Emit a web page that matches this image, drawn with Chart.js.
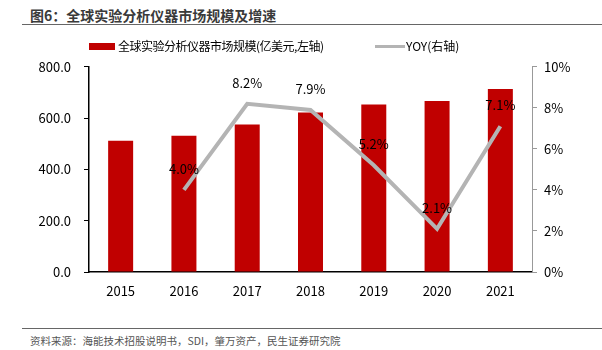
<!DOCTYPE html>
<html>
<head>
<meta charset="utf-8">
<script src="https://cdn.jsdelivr.net/npm/chart.js@4"></script>
<style>
  body { margin: 0; background: #fff; font-family: "Noto Sans CJK SC", sans-serif; }
  #wrap { position: relative; width: 602px; height: 350px; overflow: hidden; }
  #title { position: absolute; left: 30px; top: 5px; font-size: 14px; font-weight: bold; color: #3a3a3a; }
  #topLine { position: absolute; left: 22px; right: 0; top: 24px; border-top: 1px solid #666; }
  #legend { position: absolute; top: 37px; left: 0; width: 602px; height: 18px; font-size: 12px; color: #000; }
  .item { position: absolute; top: 0; line-height: 18px; white-space: nowrap; }
  .swatch { position: absolute; top: 6px; }
  #botLine { position: absolute; left: 22px; right: 0; top: 328px; border-top: 1px solid #666; }
  #source { position: absolute; left: 30px; top: 333px; font-size: 10.5px; color: #555; }
  #chartBox { position: absolute; left: 0; top: 46px; width: 602px; height: 256px; }
</style>
</head>
<body>
<div id="wrap">
  <div id="title">图6：全球实验分析仪器市场规模及增速</div>
  <div id="topLine"></div>
  <div id="chartBox"><canvas id="grafico"></canvas></div>
  <div id="legend">
    <div class="swatch" style="left:89px;width:26px;height:7px;background:#C00000"></div>
    <div class="item" style="left:118px;letter-spacing:-0.5px">全球实验分析仪器市场规模(亿美元,左轴)</div>
    <div class="swatch" style="left:375px;top:8px;width:30px;height:3px;background:#b4b4b4"></div>
    <div class="item" style="left:406px">YOY(右轴)</div>
  </div>
  <div id="botLine"></div>
  <div id="source">资料来源：海能技术招股说明书，SDI，肇万资产，民生证券研究院</div>
</div>
<script>
const years = ['2015', '2016', '2017', '2018', '2019', '2020', '2021'];
const marketSize = [512, 531, 575, 622, 653, 667, 713];
const yoy = [null, 4.0, 8.2, 7.9, 5.2, 2.1, 7.1];

const tickFont = { family: '"Noto Sans CJK SC", sans-serif', size: 13 };

// labels above the YOY points
const yoyLabels = {
  id: 'yoyLabels',
  afterDatasetsDraw(chart) {
    const ctx = chart.ctx;
    const meta = chart.getDatasetMeta(1);
    ctx.save();
    ctx.font = '13px "Noto Sans CJK SC", sans-serif';
    ctx.fillStyle = '#000';
    ctx.textAlign = 'center';
    ctx.textBaseline = 'middle';
    meta.data.forEach((pt, i) => {
      if (yoy[i] === null) return;
      ctx.fillText(yoy[i].toFixed(1) + '%', pt.x, pt.y - 21);
    });
    ctx.restore();
  }
};

const el = document.getElementById('grafico');
const graph = new Chart(el, {
  data: {
    labels: years,
    datasets: [{
      type: 'bar',
      label: '全球实验分析仪器市场规模(亿美元,左轴)',
      data: marketSize,
      backgroundColor: '#C00000',
      categoryPercentage: 1,
      barPercentage: 0.395,
      yAxisID: 'y',
      order: 2
    }, {
      type: 'line',
      label: 'YOY(右轴)',
      data: yoy,
      borderColor: '#b4b4b4',
      borderWidth: 4,
      pointRadius: 0,
      tension: 0,
      yAxisID: 'y1',
      order: 1
    }]
  },
  options: {
    responsive: true,
    maintainAspectRatio: false,
    animation: false,
    layout: { padding: { top: 13, left: 0, right: 0, bottom: 0 } },
    plugins: {
      legend: { display: false },
      tooltip: { enabled: false }
    },
    scales: {
      x: {
        grid: { display: false, drawTicks: false },
        border: { color: '#000', width: 1.5 },
        ticks: { color: '#000', font: tickFont, padding: 11 },
        afterFit(scale) { scale.height = 30; }
      },
      y: {
        position: 'left',
        min: 0,
        max: 800,
        grid: { drawOnChartArea: false, tickLength: 5, color: '#000' },
        border: { color: '#000', width: 1.5 },
        ticks: {
          stepSize: 200,
          color: '#000',
          font: tickFont,
          padding: 13,
          callback: (v) => v.toFixed(1)
        },
        afterFit(scale) { scale.width = 89; }
      },
      y1: {
        position: 'right',
        min: 0,
        max: 10,
        grid: { drawOnChartArea: false, tickLength: 5, color: '#999' },
        border: { color: '#999', width: 1 },
        ticks: {
          stepSize: 2,
          color: '#000',
          font: tickFont,
          padding: 7,
          callback: (v) => v + '%'
        },
        afterFit(scale) { scale.width = 70; }
      }
    }
  },
  plugins: [yoyLabels]
});
</script>
</body>
</html>
